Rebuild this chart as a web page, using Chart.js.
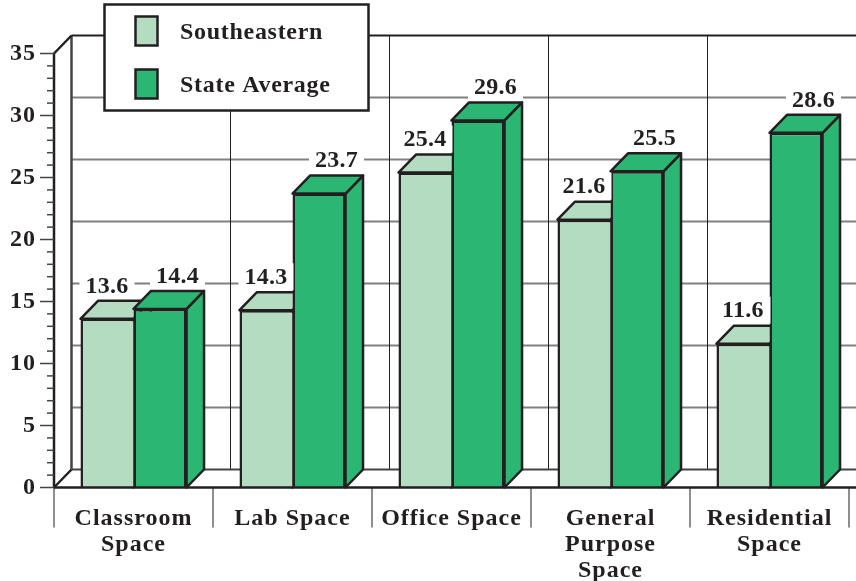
<!DOCTYPE html>
<html>
<head>
<meta charset="utf-8">
<title>Space by category</title>
<script src="https://cdn.jsdelivr.net/npm/chart.js@4"></script>
<style>
  html, body { margin: 0; padding: 0; background: #fff; overflow: hidden; }
  canvas { display: block; }
</style>
</head>
<body>
<canvas id="spaceChart" width="856" height="581"></canvas>
<script>
const categories = [['Classroom', 'Space'], 'Lab Space', 'Office Space', ['General', 'Purpose', 'Space'], ['Residential', 'Space']];
const southeastern = [13.6, 14.3, 25.4, 21.6, 11.6];
const stateAverage = [14.4, 23.7, 29.6, 25.5, 28.6];
const yTicks = [0, 5, 10, 15, 20, 25, 30, 35];

const INK = '#231f20';
const LIGHT = '#b3dcc0';
const GREEN = '#2bb673';
const GRID = '#808080';
const SERIF = '"Liberation Serif", serif';
const DEPTH_X = 17.5;
const DEPTH_Y = 18;

function line(ctx, x1, y1, x2, y2, color, width) {
    ctx.strokeStyle = color;
    ctx.lineWidth = width;
    ctx.beginPath();
    ctx.moveTo(x1, y1);
    ctx.lineTo(x2, y2);
    ctx.stroke();
}

function face(ctx, points, color) {
    ctx.fillStyle = color;
    ctx.strokeStyle = INK;
    ctx.lineWidth = 2.5;
    ctx.lineJoin = 'round';
    ctx.beginPath();
    points.forEach((p, i) => i ? ctx.lineTo(p[0], p[1]) : ctx.moveTo(p[0], p[1]));
    ctx.closePath();
    ctx.fill();
    ctx.stroke();
}

// Back wall, floor and axis furniture, plus the depth faces of the bars
const depthPlugin = {
    id: 'depth',
    beforeDraw(chart) {
        // the scales draw their labels with this too
        chart.ctx.letterSpacing = '1px';
    },
    beforeDatasetsDraw(chart) {
        const ctx = chart.ctx;
        const { x, y } = chart.scales;
        const left = x.left;
        const base = y.getPixelForValue(0);
        const top = y.getPixelForValue(35);
        const right = chart.width;
        const step = x.width / categories.length;

        ctx.save();
        // horizontal grid on the back wall
        yTicks.forEach(v => {
            if (v === 0 || v === 35) return;
            const py = y.getPixelForValue(v) - DEPTH_Y;
            line(ctx, left + DEPTH_X, py, right, py, GRID, 2);
        });
        // vertical grid on the back wall
        for (let i = 1; i <= categories.length; i++) {
            const px = left + step * i + DEPTH_X;
            line(ctx, px, top - DEPTH_Y, px, base - DEPTH_Y, INK, 1);
        }
        line(ctx, left + DEPTH_X, top - DEPTH_Y, right, top - DEPTH_Y, INK, 2);
        line(ctx, left + DEPTH_X, base - DEPTH_Y, right, base - DEPTH_Y, '#444', 2);
        line(ctx, left + DEPTH_X, top - DEPTH_Y, left + DEPTH_X, base - DEPTH_Y, '#444', 2.5);
        // side wall
        line(ctx, left, top, left + DEPTH_X, top - DEPTH_Y, INK, 2.5);
        line(ctx, left, base, left + DEPTH_X, base - DEPTH_Y, INK, 2.5);
        line(ctx, left, top, left, base, INK, 2.5);
        // y ticks, long on the labelled values
        for (let v = 0; v <= 35; v++) {
            const py = y.getPixelForValue(v);
            line(ctx, yTicks.includes(v) ? left - 14 : left - 7, py, left, py, '#444', 1.5);
        }
        // category dividers under the floor
        for (let i = 0; i <= categories.length; i++) {
            const px = left + step * i;
            line(ctx, px, base, px, base + 40, '#444', 1.2);
        }

        // tops and sides, light series first so the green one sits over it
        [0, 1].forEach(d => {
            chart.getDatasetMeta(d).data.forEach(bar => {
                const l = bar.x - bar.width / 2;
                const r = bar.x + bar.width / 2;
                const color = chart.data.datasets[d].backgroundColor;
                face(ctx, [[r, bar.y], [r + DEPTH_X, bar.y - DEPTH_Y], [r + DEPTH_X, bar.base - DEPTH_Y], [r, bar.base]], color);
                face(ctx, [[l, bar.y], [l + DEPTH_X, bar.y - DEPTH_Y], [r + DEPTH_X, bar.y - DEPTH_Y], [r, bar.y]], color);
            });
        });
        ctx.restore();
    },
    afterDatasetsDraw(chart) {
        const ctx = chart.ctx;
        const { y } = chart.scales;
        const base = y.getPixelForValue(0);
        ctx.save();
        line(ctx, y.right, base, chart.width, base, INK, 2.5);
        ctx.font = 'bold 24px ' + SERIF;
        ctx.letterSpacing = '0.3px';
        ctx.textAlign = 'center';
        ctx.textBaseline = 'middle';
        [0, 1].forEach(d => {
            const values = chart.data.datasets[d].data;
            chart.getDatasetMeta(d).data.forEach((bar, i) => {
                const cx = d === 0 ? bar.x : bar.x + DEPTH_X;
                const cy = bar.y - DEPTH_Y - 16;
                const text = values[i].toFixed(1);
                ctx.fillStyle = '#fff';
                ctx.fillRect(cx - 27.5, cy - 13, 55, 27);
                ctx.fillStyle = INK;
                ctx.fillText(text, cx, cy + 1.5);
            });
        });
        ctx.restore();
    }
};

// Boxed legend over the top of the back wall
const legendBoxPlugin = {
    id: 'legendBox',
    afterDraw(chart) {
        const ctx = chart.ctx;
        ctx.save();
        ctx.fillStyle = '#fff';
        ctx.strokeStyle = INK;
        ctx.lineWidth = 2.5;
        ctx.fillRect(104.5, 4.5, 264, 106);
        ctx.strokeRect(104.5, 4.5, 264, 106);
        ctx.font = 'bold 24px ' + SERIF;
        ctx.letterSpacing = '0.7px';
        ctx.textBaseline = 'middle';
        chart.data.datasets.forEach((ds, i) => {
            const boxY = 16.5 + i * 53;
            ctx.fillStyle = ds.backgroundColor;
            ctx.fillRect(135.5, boxY, 22, 29);
            ctx.strokeRect(135.5, boxY, 22, 29);
            ctx.fillStyle = INK;
            ctx.fillText(ds.label, 180, boxY + 16);
        });
        ctx.restore();
    }
};

new Chart(document.getElementById('spaceChart'), {
    type: 'bar',
    data: {
        labels: categories,
        datasets: [
            { label: 'Southeastern', data: southeastern, backgroundColor: LIGHT, borderColor: INK, borderWidth: { top: 2.5, left: 2.5, right: 0, bottom: 0 } },
            { label: 'State Average', data: stateAverage, backgroundColor: GREEN, borderColor: INK, borderWidth: { top: 2.5, left: 2.5, right: 2.5, bottom: 0 } }
        ]
    },
    options: {
        responsive: false,
        animation: false,
        layout: { padding: { top: 53.5, right: 7 } },
        datasets: { bar: { categoryPercentage: 0.667, barPercentage: 1 } },
        plugins: { legend: { display: false }, tooltip: { enabled: false } },
        scales: {
            x: {
                grid: { display: false },
                border: { display: false },
                afterFit(scale) { scale.height = 93.5; },
                ticks: {
                    color: INK,
                    padding: 10,
                    maxRotation: 0,
                    autoSkip: false,
                    font: { family: SERIF, size: 24, weight: 'bold', lineHeight: 1.083 }
                }
            },
            y: {
                min: 0,
                max: 35,
                grid: { display: false, drawTicks: false },
                border: { display: false },
                afterFit(scale) { scale.width = 54; },
                ticks: {
                    stepSize: 5,
                    color: INK,
                    padding: 18,
                    font: { family: SERIF, size: 24, weight: 'bold' }
                }
            }
        }
    },
    plugins: [depthPlugin, legendBoxPlugin]
});
</script>
</body>
</html>
